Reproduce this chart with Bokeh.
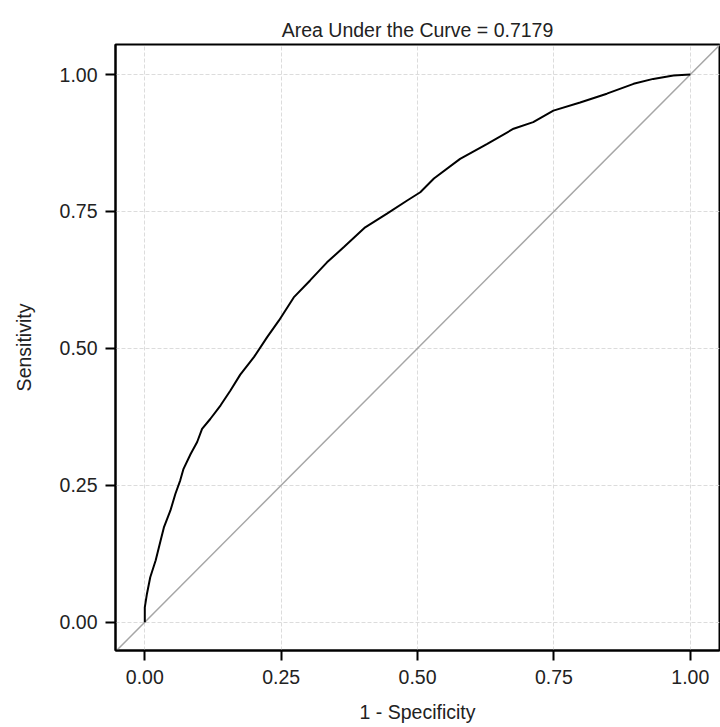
from bokeh.plotting import figure
from bokeh.models import FixedTicker, Range1d
from bokeh.embed import file_html
from bokeh.resources import INLINE

# ROC curve values
fpr = [0.0, 0.0, 0.004, 0.010, 0.020, 0.029, 0.035, 0.047, 0.056, 0.065, 0.071,
       0.084, 0.096, 0.105, 0.120, 0.139, 0.157, 0.175, 0.200, 0.224, 0.246,
       0.273, 0.303, 0.334, 0.365, 0.404, 0.444, 0.481, 0.505, 0.530, 0.578,
       0.627, 0.676, 0.712, 0.749, 0.798, 0.847, 0.896, 0.932, 0.969, 1.0]
tpr = [0.0, 0.027, 0.052, 0.082, 0.113, 0.149, 0.173, 0.204, 0.234, 0.259, 0.280,
       0.307, 0.329, 0.353, 0.371, 0.396, 0.423, 0.452, 0.484, 0.520, 0.551,
       0.593, 0.624, 0.657, 0.685, 0.721, 0.746, 0.770, 0.785, 0.810, 0.846,
       0.873, 0.901, 0.913, 0.934, 0.949, 0.965, 0.983, 0.992, 0.998, 1.0]

ref_x = [-0.1, 1.1]
ref_y = [-0.1, 1.1]

tick_values = [0.0, 0.25, 0.5, 0.75, 1.0]
tick_labels = ["0.00", "0.25", "0.50", "0.75", "1.00"]

title_text = "Area Under the Curve = 0.7179"
x_title = "1 - Specificity"
y_title = "Sensitivity"

FONT = "Liberation Sans"
FS = "19.5px"
TXT = "#222222"

p = figure(width=720, height=727, output_backend="svg", toolbar_location=None,
           x_range=Range1d(-0.0537, 1.0535), y_range=Range1d(-0.0517, 1.0548),
           min_border_left=115, min_border_right=1, min_border_top=44,
           min_border_bottom=77, title=title_text)

p.title.align = "center"
p.title.text_font = FONT
p.title.text_font_size = FS
p.title.text_font_style = "normal"
p.title.text_color = TXT
p.title.standoff = 8

p.outline_line_color = "black"
p.outline_line_width = 2
p.background_fill_color = "white"
p.border_fill_color = "white"

for ax, lab in ((p.xaxis[0], x_title), (p.yaxis[0], y_title)):
    ax.ticker = FixedTicker(ticks=tick_values)
    ax.major_label_overrides = dict(zip(tick_values, tick_labels))
    ax.axis_label = lab
    ax.axis_label_text_font = FONT
    ax.axis_label_text_font_size = FS
    ax.axis_label_text_font_style = "normal"
    ax.axis_label_text_color = TXT
    ax.major_label_text_font = FONT
    ax.major_label_text_font_size = FS
    ax.major_label_text_color = TXT
    ax.major_tick_in = 0
    ax.major_tick_out = 10
    ax.major_tick_line_width = 2
    ax.major_tick_line_color = "black"
    ax.minor_tick_line_color = None
    ax.axis_line_color = "black"
    ax.axis_line_width = 2

p.xaxis.major_label_standoff = 9
p.yaxis.major_label_standoff = 8
p.xaxis.axis_label_standoff = 14
p.yaxis.axis_label_standoff = 22

for g in (p.xgrid[0], p.ygrid[0]):
    g.ticker = FixedTicker(ticks=tick_values)
    g.grid_line_color = "#dcdcdc"
    g.grid_line_width = 1
    g.grid_line_dash = "4 2"

p.line(ref_x, ref_y, line_color="#a6a6a6", line_width=1.5)
p.line(fpr, tpr, line_color="black", line_width=2)

open("out.html", "w").write(file_html(p, INLINE))
